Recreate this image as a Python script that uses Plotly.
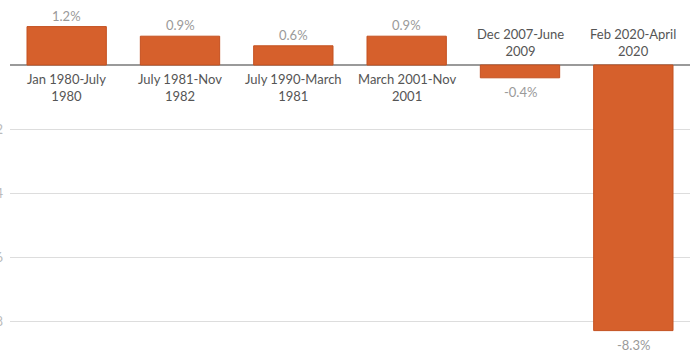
import plotly.graph_objects as go

categories = ["Jan 1980-July<br>1980", "July 1981-Nov<br>1982", "July 1990-March<br>1981",
              "March 2001-Nov<br>2001", "Dec 2007-June<br>2009", "Feb 2020-April<br>2020"]
values = [1.2, 0.9, 0.6, 0.9, -0.4, -8.3]
value_labels = ["1.2%", "0.9%", "0.6%", "0.9%", "-0.4%", "-8.3%"]
tick_vals = [-8, -6, -4, -2]
tick_text = ["-8", "-6", "-4", "-2"]

FONT = "Lato, Open Sans, sans-serif"

fig = go.Figure()
fig.add_trace(go.Bar(
    x=list(range(len(categories))), y=values,
    marker=dict(color="#D6602C", line=dict(color="#C4501F", width=1)),
    width=0.7, hoverinfo="skip",
))

for i, (c, v, vl) in enumerate(zip(categories, values, value_labels)):
    if v >= 0:
        fig.add_annotation(x=i, y=0, text=c, showarrow=False, yanchor="top", yshift=-4,
                           font=dict(size=13, color="#555555", family=FONT))
        fig.add_annotation(x=i, y=v, text=vl, showarrow=False, yanchor="bottom", yshift=1,
                           font=dict(size=13, color="#9a9a9a", family=FONT))
    else:
        fig.add_annotation(x=i, y=0, text=c, showarrow=False, yanchor="bottom", yshift=4,
                           font=dict(size=13, color="#555555", family=FONT))
        fig.add_annotation(x=i, y=v, text=vl, showarrow=False, yanchor="top", yshift=-4,
                           font=dict(size=13, color="#9a9a9a", family=FONT))

fig.update_layout(
    width=700, height=358,
    margin=dict(l=10, r=10, t=1, b=13, autoexpand=False),
    paper_bgcolor="white", plot_bgcolor="white",
    showlegend=False,
    xaxis=dict(range=[-0.5, 5.5], showticklabels=False, showgrid=False, zeroline=False,
               fixedrange=True, automargin=False),
    yaxis=dict(range=[-8.75, 2.0], tickvals=tick_vals, ticktext=tick_text,
               showgrid=True, gridcolor="#dddddd", gridwidth=1,
               zeroline=True, zerolinecolor="#9a9a9a", zerolinewidth=1.5,
               automargin=False, ticks="", ticklabelstandoff=6,
               tickfont=dict(size=13, color="#bbbbbb", family=FONT)),
)

fig.write_html("out.html", config={"displayModeBar": False},
               post_script="document.body.style.margin='0';document.body.style.overflow='hidden';")
